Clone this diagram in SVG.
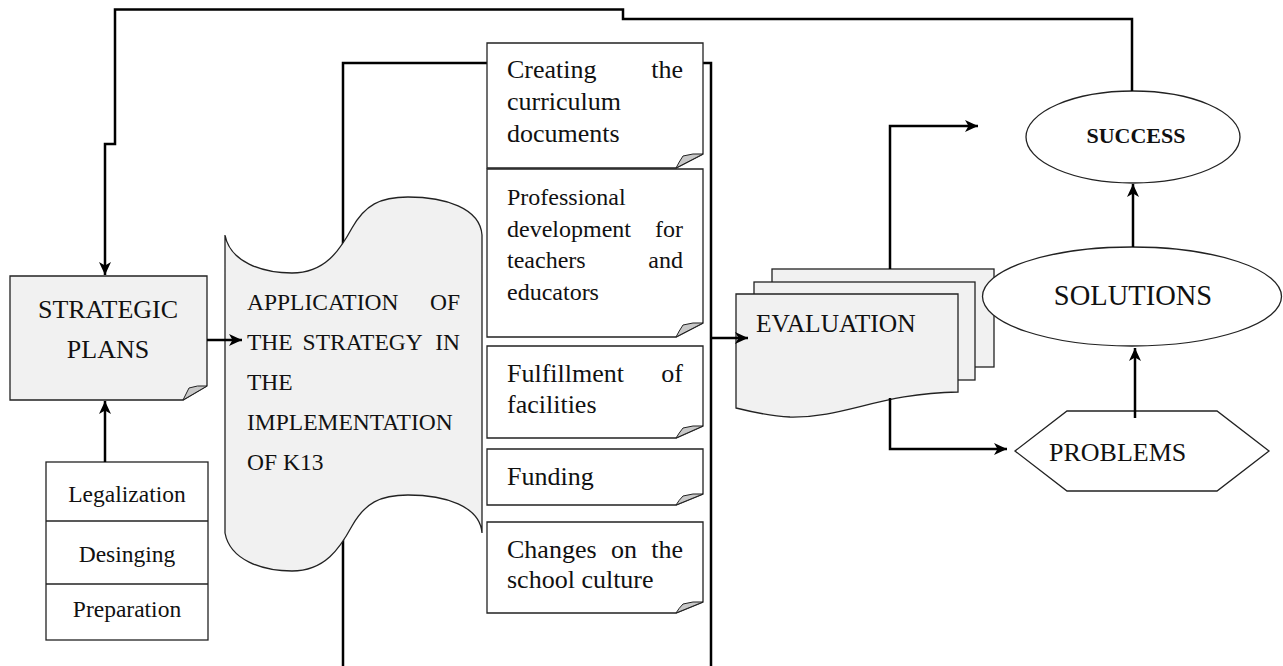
<svg xmlns="http://www.w3.org/2000/svg" width="1283" height="666" viewBox="0 0 1283 666">
<style>
text{font-family:"Liberation Serif","Times New Roman",serif;fill:#111}
.box{fill:#fff;stroke:#222;stroke-width:1.3}
.gray{fill:#f1f1f1;stroke:#222;stroke-width:1.3}
.curl{fill:#c8c8c8;stroke:#222;stroke-width:1}
.conn{fill:none;stroke:#000;stroke-width:2.5}
.arr{marker-end:url(#ah)}
.t26{font-size:26px}
.t24{font-size:24px}
.t235{font-size:23.5px}
</style>
<defs>
<marker id="ah" markerUnits="userSpaceOnUse" markerWidth="14" markerHeight="12" refX="13" refY="6" orient="auto">
<path d="M0,0 L13,6 L0,12 L3.5,6 Z" fill="#000"/>
</marker>
</defs>
<rect width="1283" height="666" fill="#fff"/>

<g id="bracket">
<path class="conn" d="M487,63 H343 V666"/>
<path class="conn" d="M703,63 H711 V666"/>
</g>

<g id="strategic-plans">
<path class="gray" d="M10,276 H207 V386 L183,400 H10 Z"/>
<path class="curl" d="M207,386 Q197,385 189,388 Q186,394 183,400 Z"/>
<text class="t26" x="108" y="318" text-anchor="middle">STRATEGIC</text>
<text class="t26" x="108" y="358" text-anchor="middle">PLANS</text>
</g>

<g id="legal-stack">
<rect class="box" x="46" y="462" width="162" height="178"/>
<line x1="46" y1="521" x2="208" y2="521" stroke="#222" stroke-width="1.3"/>
<line x1="46" y1="584" x2="208" y2="584" stroke="#222" stroke-width="1.3"/>
<text class="t235" x="127" y="502" text-anchor="middle">Legalization</text>
<text class="t235" x="127" y="562" text-anchor="middle">Desinging</text>
<text class="t235" x="127" y="617" text-anchor="middle">Preparation</text>
</g>

<g id="application">
<path class="gray" d="M225,235 C230,262 262,273 292,273 C325,273 340,250 352,228 C365,205 380,197 408,197 C445,197 480,208 482,235 L482,533 C480,506 445,495 408,495 C380,495 365,503 352,526 C340,548 325,571 292,571 C262,571 230,560 225,533 Z"/>
<text class="t235" y="310"><tspan x="247">APPLICATION</tspan><tspan x="460" text-anchor="end">OF</tspan></text>
<text class="t235" y="350"><tspan x="247">THE</tspan><tspan x="302.6">STRATEGY</tspan><tspan x="460" text-anchor="end">IN</tspan></text>
<text class="t235" x="247" y="390">THE</text>
<text class="t235" x="247" y="430">IMPLEMENTATION</text>
<text class="t235" x="247" y="470">OF K13</text>
</g>

<g id="creating">
<path class="box" d="M487,43 H703 V154 L676,168 H487 Z"/>
<path class="curl" d="M703,154 Q693,153 683,156 Q679,162 676,168 Z"/>
<text class="t26" y="78"><tspan x="507">Creating</tspan><tspan x="683" text-anchor="end">the</tspan></text>
<text class="t26" x="507" y="110">curriculum</text>
<text class="t26" x="507" y="142">documents</text>
</g>

<g id="professional">
<path class="box" d="M487,169 H703 V323 L676,337 H487 Z"/>
<path class="curl" d="M703,323 Q693,322 683,325 Q679,331 676,337 Z"/>
<text class="t24" x="507" y="205">Professional</text>
<text class="t24" y="237"><tspan x="507">development</tspan><tspan x="683" text-anchor="end">for</tspan></text>
<text class="t24" y="268"><tspan x="507">teachers</tspan><tspan x="683" text-anchor="end">and</tspan></text>
<text class="t24" x="507" y="300">educators</text>
</g>

<g id="fulfillment">
<path class="box" d="M487,346 H703 V426 L676,438 H487 Z"/>
<path class="curl" d="M703,426 Q693,425 683,428 Q679,433 676,438 Z"/>
<text class="t26" y="382"><tspan x="507">Fulfillment</tspan><tspan x="683" text-anchor="end">of</tspan></text>
<text class="t26" x="507" y="413">facilities</text>
</g>

<g id="funding">
<path class="box" d="M487,449 H703 V494 L676,505 H487 Z"/>
<path class="curl" d="M703,494 Q693,493 683,496 Q679,500 676,505 Z"/>
<text class="t26" x="507" y="485">Funding</text>
</g>

<g id="changes">
<path class="box" d="M487,522 H703 V602 L676,613 H487 Z"/>
<path class="curl" d="M703,602 Q693,601 683,604 Q679,608 676,613 Z"/>
<text class="t26" y="558"><tspan x="507">Changes</tspan><tspan x="611">on</tspan><tspan x="683" text-anchor="end">the</tspan></text>
<text class="t26" x="507" y="588">school culture</text>
</g>

<g id="evaluation">
<rect class="gray" x="772" y="269" width="222" height="98" stroke="#333"/>
<rect class="gray" x="754" y="282" width="221" height="98" stroke="#333"/>
<path class="gray" d="M736,294 H958 V392 C880,393 845,418 790,417 C770,416 752,412 736,408 Z"/>
<text x="756" y="332" style="font-size:25.5px">EVALUATION</text>
</g>

<g id="success">
<ellipse class="box" cx="1133" cy="137" rx="107" ry="46" stroke-width="1.6"/>
<text x="1136" y="143" text-anchor="middle" style="font-size:22px;font-weight:bold">SUCCESS</text>
</g>

<g id="solutions">
<ellipse class="box" cx="1132" cy="296.5" rx="149.5" ry="49.5" stroke-width="1.6"/>
<text x="1133" y="305" text-anchor="middle" style="font-size:28.5px">SOLUTIONS</text>
</g>

<g id="problems">
<path class="box" d="M1015,451 L1067,411 H1217 L1269,451 L1217,491 H1067 Z"/>
<text class="t26" x="1049" y="461">PROBLEMS</text>
</g>

<g id="connectors">
<path class="conn arr" d="M1132,91 V19 H623 V9.5 H115 V144 H105 V275"/>
<path class="conn arr" d="M105,462 V401"/>
<path class="conn arr" d="M207,340 H242"/>
<path class="conn arr" d="M711,338 H748"/>
<path class="conn arr" d="M890,269 V126 H978"/>
<path class="conn arr" d="M890,398 V449 H1007"/>
<path class="conn arr" d="M1133,247 V184"/>
<path class="conn arr" d="M1135,418 V348"/>
</g>
</svg>
